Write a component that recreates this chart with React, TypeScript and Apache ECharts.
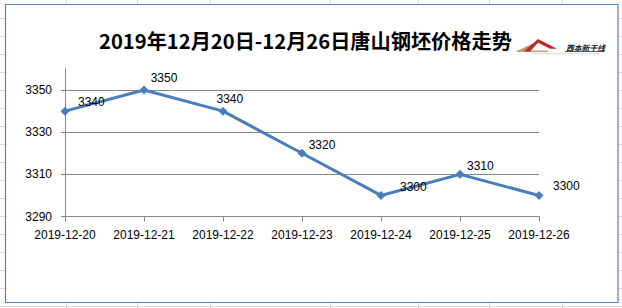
import React, { useEffect, useRef } from "react";
import * as echarts from "echarts";

const titleText = "2019年12月20日-12月26日唐山钢坯价格走势";
const categories = [
  "2019-12-20",
  "2019-12-21",
  "2019-12-22",
  "2019-12-23",
  "2019-12-24",
  "2019-12-25",
  "2019-12-26",
];
const prices = [3340, 3350, 3340, 3320, 3300, 3310, 3300];
const yMin = 3290;
const yMax = 3360;
const yInterval = 20;
const logoText = "西本新干线";

// per-point data-label nudges (style only, relative to each point's label anchor)
const labelNudges = [
  [8.5, -8.7],
  [2.2, -11.7],
  [-11, -11.7],
  [2.2, -8.3],
  [14.5, -8.7],
  [2.5, -8],
  [9.5, -9],
];

// Excel sheet cell lines visible around the chart frame (decoration)
const sheetCols = [66, 137, 210, 330, 418, 489, 562];
const sheetRows = [18, 36, 54, 72, 90, 108, 126, 144, 162, 180, 198, 216, 234, 252, 270, 288, 306];

export default function App() {
  const ref = useRef<HTMLDivElement>(null);
  useEffect(() => {
    if (!ref.current) return;
    const chart = echarts.init(ref.current, null, { renderer: "svg" });
    const cellColor = "#d9d9d9";
    const graphics: any[] = [];
    sheetCols.forEach((x) => {
      graphics.push({ type: "line", silent: true, z: -10, shape: { x1: x + 0.5, y1: 0, x2: x + 0.5, y2: 5 }, style: { stroke: cellColor, lineWidth: 1 } });
      graphics.push({ type: "line", silent: true, z: -10, shape: { x1: x + 0.5, y1: 303, x2: x + 0.5, y2: 308 }, style: { stroke: cellColor, lineWidth: 1 } });
    });
    sheetRows.forEach((y) => {
      graphics.push({ type: "line", silent: true, z: -10, shape: { x1: 0, y1: y + 0.5, x2: 5, y2: y + 0.5 }, style: { stroke: cellColor, lineWidth: 1 } });
      graphics.push({ type: "line", silent: true, z: -10, shape: { x1: 619, y1: y + 0.5, x2: 622, y2: y + 0.5 }, style: { stroke: cellColor, lineWidth: 1 } });
    });
    graphics.push({ type: "line", silent: true, z: -10, shape: { x1: 0, y1: 306.5, x2: 622, y2: 306.5 }, style: { stroke: cellColor, lineWidth: 1 } });
    // chart frame
    graphics.push({
      type: "rect",
      silent: true,
      z: -5,
      shape: { x: 5.5, y: 4.5, width: 612.5, height: 298 },
      style: { fill: "#ffffff", stroke: "#4f81bd", lineWidth: 1.2 },
    });
    // logo
    graphics.push({
      type: "group",
      silent: true,
      children: [
        {
          type: "polygon",
          shape: { points: [[516, 51.5], [533, 43.5], [538, 41], [530, 47.5], [524, 51.5]] },
          style: { fill: "#b8955f" },
        },
        {
          type: "rect",
          shape: { x: 517, y: 50.5, width: 31, height: 1.6 },
          style: { fill: "#c2a16d" },
        },
        {
          type: "polygon",
          shape: { points: [[524, 51.5], [538, 39], [557, 48.8], [550, 48.8], [538, 42.8], [530, 51.5]] },
          style: { fill: "#c0282e" },
        },
        {
          type: "rect",
          shape: { x: 532, y: 53.2, width: 68, height: 1 },
          style: { fill: "#d8d8d8" },
        },
        {
          type: "text",
          style: {
            x: 566,
            y: 47,
            text: logoText,
            fontSize: 7.8,
            fontWeight: "bold",
            fontStyle: "italic",
            fontFamily: "Noto Sans CJK SC",
            fill: "#1a1a1a",
            verticalAlign: "middle",
            align: "left",
          },
        },
        {
          type: "line",
          shape: { x1: 565, y1: 51.5, x2: 604, y2: 51.5 },
          style: { stroke: "#333333", lineWidth: 0.8 },
        },
      ],
    });

    chart.setOption({
      animation: false,
      backgroundColor: "#ffffff",
      title: {
        text: titleText,
        left: 99,
        top: 30,
        padding: 0,
        textStyle: {
          fontSize: 20.2,
          fontWeight: "bold",
          color: "#000000",
          fontFamily: "Noto Sans CJK SC",
        },
      },
      graphic: graphics,
      grid: { left: 65, right: 83, top: 69, bottom: 91.5, containLabel: false },
      xAxis: {
        type: "category",
        data: categories,
        boundaryGap: false,
        axisLine: { show: true, lineStyle: { color: "#868686", width: 1 } },
        axisTick: { show: true, inside: false, length: 5, alignWithLabel: true, lineStyle: { color: "#868686" } },
        axisLabel: {
          margin: 12,
          fontSize: 12,
          color: "#000000",
          fontFamily: "Liberation Sans",
          interval: 0,
        },
        splitLine: { show: false },
      },
      yAxis: {
        type: "value",
        min: yMin,
        max: yMax,
        interval: yInterval,
        axisLine: { show: true, lineStyle: { color: "#868686", width: 1 } },
        axisTick: { show: true, length: 4, lineStyle: { color: "#868686" } },
        axisLabel: {
          margin: 13,
          fontSize: 12,
          color: "#000000",
          fontFamily: "Liberation Sans",
          showMaxLabel: false,
          formatter: (v: number) => String(v),
        },
        splitLine: {
          show: true,
          showMaxLine: false,
          lineStyle: { color: "#868686", width: 1 },
        },
      },
      series: [
        {
          type: "line",
          data: prices.map((v, i) => ({
            value: v,
            label: { offset: labelNudges[i] },
          })),
          symbol: "diamond",
          symbolSize: 9,
          lineStyle: { color: "#4a7ebb", width: 3 },
          itemStyle: { color: "#4a7ebb" },
          label: {
            show: true,
            position: "right",
            distance: 0,
            fontSize: 12,
            color: "#000000",
            fontFamily: "Liberation Sans",
          },
        },
      ],
    });
    return () => chart.dispose();
  }, []);
  return (
    <div
      ref={ref}
      style={{ position: "fixed", left: 0, top: 0, width: 622, height: 308 }}
    />
  );
}
